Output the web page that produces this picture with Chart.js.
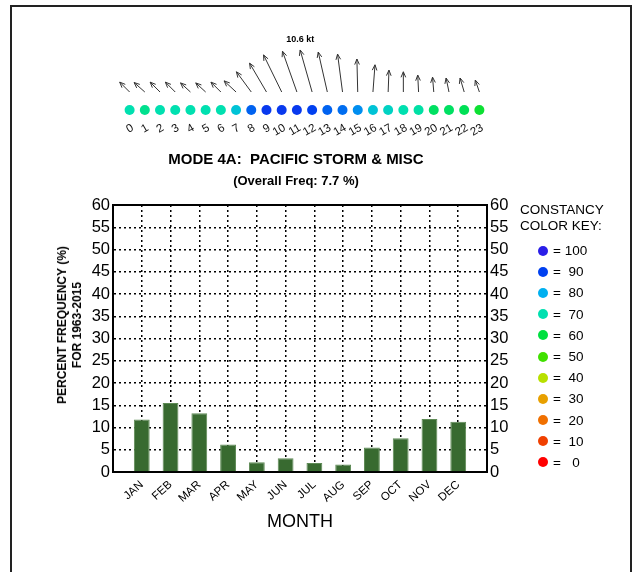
<!DOCTYPE html>
<html>
<head>
<meta charset="utf-8">
<script src="https://cdn.jsdelivr.net/npm/chart.js@4/dist/chart.umd.min.js"></script>
<style>
  body { margin: 0; background: #fff; font-family: Arial, "Liberation Sans", sans-serif; }
  #page { position: relative; width: 633px; height: 572px; overflow: hidden; }
  #frame { position: absolute; left: 10px; top: 5px; width: 618px; height: 600px; border: 2px solid #222; }
  canvas { position: absolute; left: 0; }
  #topChart { top: 0; }
  #mainChart { top: 145px; }
  .txt { position: absolute; white-space: pre; color: #000; }
  #title { left: 0; width: 592px; top: 150px; text-align: center; font: bold 15px Arial, "Liberation Sans", sans-serif; }
  #subtitle { left: 0; width: 592px; top: 173px; text-align: center; font: bold 13px Arial, "Liberation Sans", sans-serif; }
  #ytitle { left: 70px; top: 325px; transform: translate(-50%, -50%) rotate(-90deg); text-align: center;
            font: bold 12px Arial, "Liberation Sans", sans-serif; line-height: 15px; }
  #keyhead { left: 520px; top: 202px; font: 13.5px Arial, "Liberation Sans", sans-serif; line-height: 16px; }
  #key { position: absolute; left: 538px; top: 240px; }
  .row { height: 21.2px; display: flex; align-items: center; font: 13.5px Arial, "Liberation Sans", sans-serif; white-space: pre; }
  .dot { width: 10px; height: 10px; border-radius: 50%; margin-right: 5px; }
</style>
</head>
<body>
<div id="page">
  <div id="frame"></div>
  <canvas id="topChart" width="633" height="145"></canvas>
  <canvas id="mainChart" width="633" height="427"></canvas>
  <div class="txt" id="title">MODE 4A:  PACIFIC STORM &amp; MISC</div>
  <div class="txt" id="subtitle">(Overall Freq: 7.7 %)</div>
  <div class="txt" id="ytitle">PERCENT FREQUENCY (%)
FOR 1963-2015</div>
  <div class="txt" id="keyhead">CONSTANCY
COLOR KEY:</div>
  <div id="key"></div>
</div>
<script>
// monthly frequency
const months = ["JAN", "FEB", "MAR", "APR", "MAY", "JUN", "JUL", "AUG", "SEP", "OCT", "NOV", "DEC"];
const freq = [11.8, 15.5, 13.2, 6.2, 2.2, 3.1, 2.0, 1.7, 5.5, 7.6, 11.9, 11.3];
const yTicksMax = 60;
const yStep = 5;

// hourly mean wind (kt) and constancy (%)
const hours = ["0","1","2","3","4","5","6","7","8","9","10","11","12","13","14","15","16","17","18","19","20","21","22","23"];
const windU = [-2.4, -2.6, -2.4, -2.4, -2.4, -2.4, -2.4, -2.9, -3.6, -4.1, -4.4, -3.5, -2.9, -2.2, -1.2, -0.2, 0.5, 0.2, 0.0, -0.2, -0.3, -0.7, -1.0, -1.0];
const windV = [2.4, 2.3, 2.4, 2.4, 2.2, 2.2, 2.4, 2.7, 4.9, 7.0, 9.0, 9.9, 10.2, 9.7, 9.2, 8.0, 6.6, 5.3, 4.9, 4.1, 3.6, 3.4, 3.4, 2.9];
const constancy = [70, 67, 70, 70, 70, 70, 70, 76, 87, 92, 92, 92, 90, 87, 86, 83, 76, 73, 70, 69, 63, 63, 62, 58];

// constancy colour key
const keyLevels = [100, 90, 80, 70, 60, 50, 40, 30, 20, 10, 0];
const keyColors = ["#2a1ee8", "#0040f0", "#00b0f0", "#00e0b0", "#00e040", "#40e000", "#b8e000", "#e8a000", "#f07000", "#f04000", "#ff0000"];

const FONT = 'Arial, "Liberation Sans", sans-serif';
const PX_PER_KT = 4.12;

function hexRgb(h) {
  return [parseInt(h.slice(1, 3), 16), parseInt(h.slice(3, 5), 16), parseInt(h.slice(5, 7), 16)];
}
function constancyColor(c) {
  for (let i = 0; i < keyLevels.length - 1; i++) {
    const hi = keyLevels[i], lo = keyLevels[i + 1];
    if (c <= hi && c >= lo) {
      const t = (c - lo) / (hi - lo);
      const a = hexRgb(keyColors[i + 1]), b = hexRgb(keyColors[i]);
      const m = a.map((v, k) => Math.round(v + (b[k] - v) * t));
      return `rgb(${m[0]},${m[1]},${m[2]})`;
    }
  }
  return keyColors[keyColors.length - 1];
}

// key rows
const keyDiv = document.getElementById("key");
keyLevels.forEach((lv, i) => {
  const row = document.createElement("div");
  row.className = "row";
  row.innerHTML = `<span class="dot" style="background:${keyColors[i]}"></span>= ${String(lv).padStart(3, " ")}`;
  keyDiv.appendChild(row);
});

// arrows above the hour dots
const arrowPlugin = {
  id: "arrows",
  afterDatasetsDraw(chart) {
    const ctx = chart.ctx;
    const pts = chart.getDatasetMeta(0).data;
    let best = 0, bestSpd = -1;
    ctx.save();
    ctx.strokeStyle = "#333";
    ctx.lineWidth = 1;
    pts.forEach((p, i) => {
      const x0 = p.x, y0 = p.y - 18;
      const x1 = x0 + windU[i] * PX_PER_KT, y1 = y0 - windV[i] * PX_PER_KT;
      const ang = Math.atan2(y1 - y0, x1 - x0);
      ctx.beginPath();
      ctx.moveTo(x0, y0);
      ctx.lineTo(x1, y1);
      for (const s of [-1, 1]) {
        ctx.moveTo(x1, y1);
        ctx.lineTo(x1 - 6 * Math.cos(ang + s * 0.4), y1 - 6 * Math.sin(ang + s * 0.4));
      }
      ctx.stroke();
      const spd = Math.hypot(windU[i], windV[i]);
      if (spd > bestSpd) { bestSpd = spd; best = i; }
    });
    const p = pts[best];
    const tx = p.x + windU[best] * PX_PER_KT;
    const ty = p.y - 18 - windV[best] * PX_PER_KT;
    ctx.fillStyle = "#000";
    ctx.font = "bold 9px " + FONT;
    ctx.textAlign = "center";
    ctx.textBaseline = "middle";
    ctx.fillText(bestSpd.toFixed(1) + " kt", tx, ty - 10);
    ctx.restore();
  }
};

new Chart(document.getElementById("topChart"), {
  type: "line",
  data: {
    labels: hours,
    datasets: [{
      data: hours.map(() => 0),
      showLine: false,
      pointRadius: 5,
      pointBorderWidth: 0,
      pointBackgroundColor: constancy.map(constancyColor),
      clip: false
    }]
  },
  options: {
    responsive: false,
    animation: false,
    layout: { padding: { left: 122, right: 146, top: 60, bottom: 5 } },
    plugins: { legend: { display: false }, tooltip: { enabled: false } },
    scales: {
      x: {
        offset: true,
        grid: { display: false },
        border: { display: false },
        ticks: { autoSkip: false, minRotation: 30, maxRotation: 30, padding: 3, labelOffset: 3, color: "#111", font: { family: FONT, size: 11.5 } },
        afterFit: s => { s.height = 30; }
      },
      y: { display: false, min: 0, max: 1 }
    }
  },
  plugins: [arrowPlugin]
});

// empty slots at both ends leave a gap before JAN and after DEC
const xLabels = ["", ...months, ""];
const xData = [null, ...freq, null];
const edge = c => c.index === 0 || c.index === xLabels.length - 1;
const gridWidth = c => (c.tick && c.tick.value === yTicksMax ? 2 : 1.5);
const gridDash = c => (c.tick && c.tick.value === yTicksMax ? [] : [2, 3]);

new Chart(document.getElementById("mainChart"), {
  type: "bar",
  data: {
    labels: xLabels,
    datasets: [{
      data: xData,
      backgroundColor: "#386a30",
      borderColor: "#5e8a55",
      borderWidth: 1,
      barPercentage: 0.55,
      categoryPercentage: 1
    }]
  },
  options: {
    responsive: false,
    animation: false,
    layout: { padding: { left: 0, right: 0, top: 60, bottom: 20 } },
    plugins: { legend: { display: false }, tooltip: { enabled: false } },
    scales: {
      x: {
        offset: false,
        grid: { offset: false, color: c => (edge(c) ? "transparent" : "#000"), lineWidth: 1.5, drawTicks: false },
        border: { color: "#000", width: 2, dash: [2, 3] },
        ticks: { autoSkip: false, minRotation: 42, maxRotation: 42, padding: 6, color: "#000", font: { family: FONT, size: 11.5 } },
        title: { display: true, text: "MONTH", color: "#000", font: { family: FONT, size: 18 }, padding: { top: 4, bottom: 19 } },
        afterFit: s => { s.height = 80; }
      },
      y: {
        position: "left",
        min: 0, max: yTicksMax,
        grid: { color: "#000", lineWidth: gridWidth, drawTicks: false },
        border: { color: "#000", width: 2, dash: gridDash },
        ticks: { stepSize: yStep, autoSkip: false, padding: 3, color: "#000", font: { family: FONT, size: 16.5 } },
        afterFit: s => { s.width = 113; }
      },
      y2: {
        position: "right",
        min: 0, max: yTicksMax,
        grid: { drawOnChartArea: false, drawTicks: false },
        border: { color: "#000", width: 2 },
        ticks: { stepSize: yStep, autoSkip: false, padding: 3, color: "#000", font: { family: FONT, size: 16.5 } },
        afterFit: s => { s.width = 146; }
      }
    }
  }
});
</script>
</body>
</html>
